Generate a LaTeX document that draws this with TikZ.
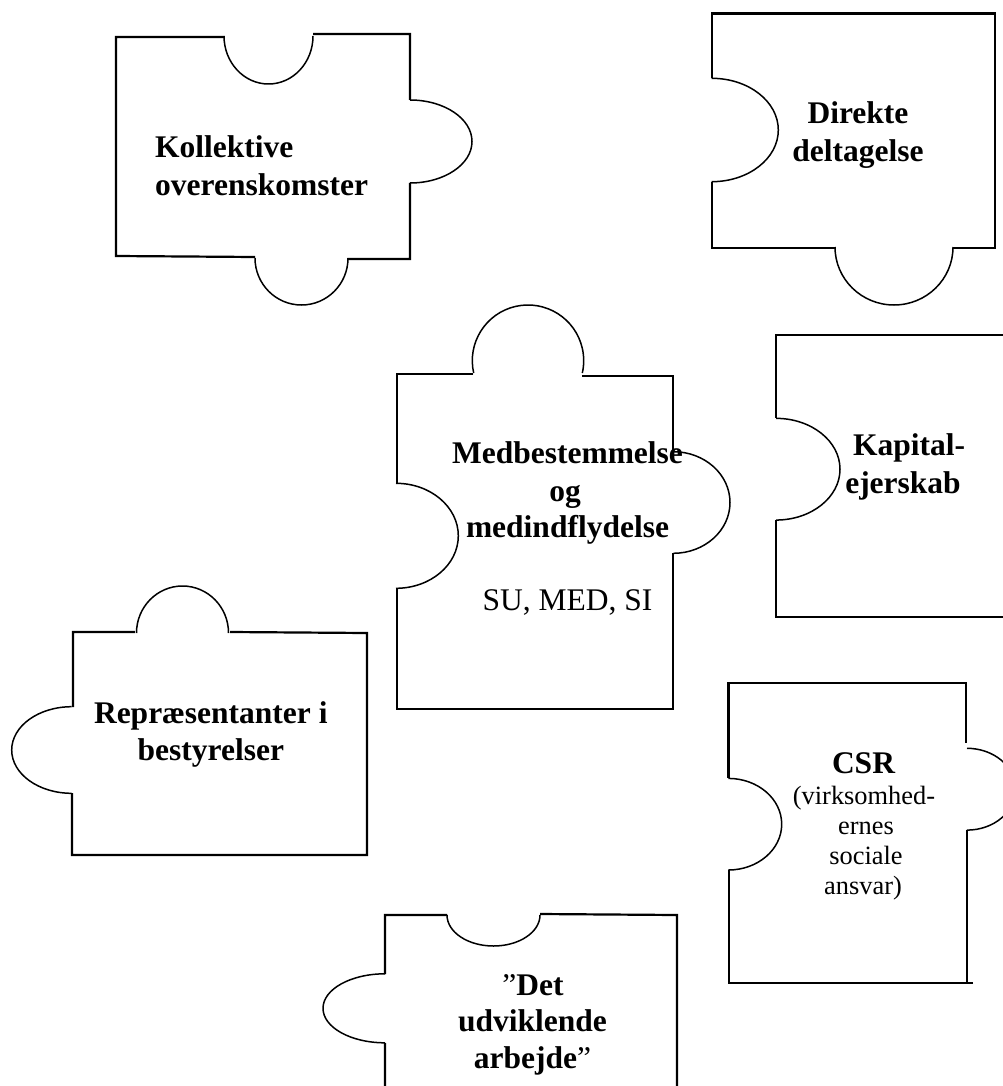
\documentclass[tikz,border=0pt]{standalone}
\usepackage{fontspec}
\setmainfont{Liberation Serif}
\newcommand\pzarc[6]{\draw[lobe] (#1,#2) ++(#5:#3 and #4) arc[start angle=#5, end angle=#6, x radius=#3, y radius=#4];}
\begin{document}
\begin{tikzpicture}[x=1pt,y=-1pt,
  edge/.style={line width=2.2pt},
  lobe/.style={line width=1.5pt},
  bigb/.style={font=\fontsize{31.5}{37}\selectfont\bfseries, inner sep=0pt, anchor=base},
  bigr/.style={font=\fontsize{31.5}{37}\selectfont, inner sep=0pt, anchor=base},
  smr/.style={font=\fontsize{26.4}{30}\selectfont, inner sep=0pt, anchor=base}]
\useasboundingbox (0,0) rectangle (1003,1086);
\clip (0,0) rectangle (1003,1086);
\fill[white] (0,0) rectangle (1003,1086);

% Piece 1: Kollektive overenskomster
\draw[edge] (224,37) -- (116,37) -- (116,256) -- (255,257)
            (348,259) -- (410,259) -- (410,183)
            (410,100) -- (410,34) -- (313,34);
\pzarc{268.5}{36}{44.5}{48}{180}{0}
\pzarc{410}{141.5}{62}{41.5}{-90}{90}
\pzarc{301.5}{258}{46.5}{47}{0}{180}
\node[bigb, anchor=base west] (k1) at (155,158) {Kollektive};
\node[bigb, anchor=base west] (k2) at (155,195) {overenskomster};

% Piece 2: Direkte deltagelse
\draw[edge] (835,248) -- (712,248) -- (712,182)
            (712,78) -- (712,13.5) -- (995,13.5) -- (995,248) -- (953,248);
\pzarc{711.7}{130}{66.6}{51.7}{-90}{90}
\pzarc{894}{247}{59}{58}{0}{180}
\node[bigb] (d1) at (858,123.3) {Direkte};
\node[bigb] (d2) at (858,161.7) {deltagelse};

% Piece 3: Medbestemmelse og medindflydelse
\draw[edge] (473,374) -- (397,374) -- (397,483)
            (397,588) -- (397,709) -- (673,709) -- (673,553)
            (673,451) -- (673,376) -- (582,376);
\pzarc{528}{360.7}{55.7}{55.7}{167.2}{372.8}
\pzarc{673.3}{502.5}{56.7}{50.8}{-90}{90}
\pzarc{396}{535.8}{62.3}{52.5}{-90}{90}
\node[bigb] (m1) at (567.5,463.3) {Medbestemmelse};
\node[bigb] (m2) at (565,501.7) {og};
\node[bigb] (m3) at (567.5,537.3) {medindflydelse};
\node[bigr] (m4) at (567.5,610) {SU, MED, SI};

% Piece 4: Kapital-ejerskab
\draw[edge] (1010,335) -- (776,335) -- (776,418)
            (776,520) -- (776,617) -- (1010,617);
\pzarc{776}{469.2}{64}{50.85}{-90}{90}
\node[bigb] (c1) at (909,455) {Kapital-};
\node[bigb] (c2) at (903,493) {ejerskab};

% Piece 5: Repraesentanter i bestyrelser
\draw[edge] (135,632) -- (73,632) -- (73,707)
            (72,793) -- (72,855) -- (367,855) -- (367,633) -- (230,632);
\pzarc{182.5}{633}{46}{47}{180}{360}
\pzarc{71.7}{750}{60}{43.3}{270}{90}
\node[bigb] (r1) at (210.8,723.3) {Repræsentanter i};
\node[bigb] (r2) at (210.8,760) {bestyrelser};

% Piece 6: CSR
\draw[edge] (728.5,778) -- (728.5,683) -- (966,683) -- (966,743)
            (967,830) -- (967,983)
            (973,983) -- (729,983) -- (729,870);
\pzarc{728.3}{824.2}{53.4}{45.8}{-90}{90}
\pzarc{967}{789.2}{48.6}{40.9}{-90}{90}
\node[bigb] (s1) at (863.5,773) {CSR};
\node[smr] (s2) at (864,804) {(virksomhed-};
\node[smr] (s3) at (866,834) {ernes};
\node[smr] (s4) at (866,864) {sociale};
\node[smr] (s5) at (863,894) {ansvar)};

% Piece 7: Det udviklende arbejde
\draw[edge] (447,915) -- (385,915) -- (385,974)
            (385,1043) -- (385,1090)
            (540,914) -- (677,915) -- (677,1090);
\pzarc{493.5}{915}{46.5}{31}{180}{0}
\pzarc{385}{1008.3}{62}{34.5}{270}{90}
\node[bigb] (u1) at (533,995) {{\mdseries ”}Det};
\node[bigb] (u2) at (532.5,1031.7) {udviklende};
\node[bigb] (u3) at (532.5,1068.3) {arbejde{\mdseries ”}};
\end{tikzpicture}
\end{document}
